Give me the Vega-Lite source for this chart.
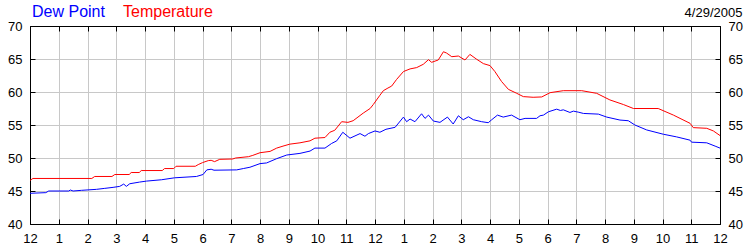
{
  "$schema": "https://vega.github.io/schema/vega-lite/v6.json",
  "width": 690,
  "height": 198,
  "autosize": "none",
  "padding": {"left": 30, "top": 26, "right": 30, "bottom": 26},
  "background": "white",
  "title": {"text": "4/29/2005", "anchor": "end", "fontSize": 13, "fontWeight": "normal", "font": "Liberation Sans", "color": "black", "offset": -16},
  "config": {"view": {"stroke": "black", "strokeWidth": 1}, "font": "Liberation Sans"},
  "data": {"values": [
    {"h":0,"s":"Temperature","v":46.6},{"h":0.1,"s":"Temperature","v":46.9},{"h":2.15,"s":"Temperature","v":46.9},{"h":2.25,"s":"Temperature","v":47.2},{"h":2.85,"s":"Temperature","v":47.2},{"h":2.95,"s":"Temperature","v":47.5},{"h":3.45,"s":"Temperature","v":47.5},{"h":3.52,"s":"Temperature","v":47.8},{"h":3.8,"s":"Temperature","v":47.8},{"h":3.87,"s":"Temperature","v":48.1},{"h":4.6,"s":"Temperature","v":48.1},{"h":4.68,"s":"Temperature","v":48.4},{"h":5.0,"s":"Temperature","v":48.4},{"h":5.08,"s":"Temperature","v":48.75},{"h":5.75,"s":"Temperature","v":48.75},{"h":5.85,"s":"Temperature","v":49.0},{"h":6.0,"s":"Temperature","v":49.3},{"h":6.2,"s":"Temperature","v":49.6},{"h":6.3,"s":"Temperature","v":49.65},{"h":6.42,"s":"Temperature","v":49.45},{"h":6.6,"s":"Temperature","v":49.8},{"h":7.05,"s":"Temperature","v":49.85},{"h":7.15,"s":"Temperature","v":50.0},{"h":7.6,"s":"Temperature","v":50.2},{"h":7.75,"s":"Temperature","v":50.4},{"h":8.0,"s":"Temperature","v":50.8},{"h":8.35,"s":"Temperature","v":51.0},{"h":8.58,"s":"Temperature","v":51.5},{"h":8.8,"s":"Temperature","v":51.8},{"h":9.04,"s":"Temperature","v":52.1},{"h":9.39,"s":"Temperature","v":52.3},{"h":9.74,"s":"Temperature","v":52.6},{"h":9.91,"s":"Temperature","v":53.0},{"h":10.26,"s":"Temperature","v":53.1},{"h":10.43,"s":"Temperature","v":53.9},{"h":10.6,"s":"Temperature","v":54.2},{"h":10.84,"s":"Temperature","v":55.5},{"h":11.06,"s":"Temperature","v":55.4},{"h":11.24,"s":"Temperature","v":55.65},{"h":11.59,"s":"Temperature","v":56.8},{"h":11.83,"s":"Temperature","v":57.5},{"h":11.94,"s":"Temperature","v":58.1},{"h":12.17,"s":"Temperature","v":59.5},{"h":12.29,"s":"Temperature","v":60.2},{"h":12.45,"s":"Temperature","v":60.6},{"h":12.58,"s":"Temperature","v":60.9},{"h":12.75,"s":"Temperature","v":61.9},{"h":12.99,"s":"Temperature","v":63.1},{"h":13.22,"s":"Temperature","v":63.5},{"h":13.45,"s":"Temperature","v":63.7},{"h":13.68,"s":"Temperature","v":64.2},{"h":13.86,"s":"Temperature","v":64.9},{"h":13.97,"s":"Temperature","v":64.5},{"h":14.2,"s":"Temperature","v":64.85},{"h":14.38,"s":"Temperature","v":66.1},{"h":14.49,"s":"Temperature","v":65.9},{"h":14.67,"s":"Temperature","v":65.35},{"h":14.9,"s":"Temperature","v":65.45},{"h":15.13,"s":"Temperature","v":64.85},{"h":15.3,"s":"Temperature","v":65.7},{"h":15.54,"s":"Temperature","v":64.95},{"h":15.77,"s":"Temperature","v":64.3},{"h":16.0,"s":"Temperature","v":64.0},{"h":16.17,"s":"Temperature","v":63.1},{"h":16.4,"s":"Temperature","v":61.6},{"h":16.64,"s":"Temperature","v":60.4},{"h":16.93,"s":"Temperature","v":59.8},{"h":17.16,"s":"Temperature","v":59.3},{"h":17.5,"s":"Temperature","v":59.2},{"h":17.8,"s":"Temperature","v":59.25},{"h":18.09,"s":"Temperature","v":59.9},{"h":18.55,"s":"Temperature","v":60.2},{"h":19.19,"s":"Temperature","v":60.2},{"h":19.71,"s":"Temperature","v":59.8},{"h":20.17,"s":"Temperature","v":58.8},{"h":20.64,"s":"Temperature","v":58.1},{"h":20.99,"s":"Temperature","v":57.5},{"h":21.85,"s":"Temperature","v":57.5},{"h":22.38,"s":"Temperature","v":56.5},{"h":22.96,"s":"Temperature","v":55.25},{"h":23.07,"s":"Temperature","v":54.6},{"h":23.54,"s":"Temperature","v":54.5},{"h":23.77,"s":"Temperature","v":54.1},{"h":24.0,"s":"Temperature","v":53.4},
    {"h":0,"s":"Dew Point","v":44.65},{"h":0.55,"s":"Dew Point","v":44.75},{"h":0.65,"s":"Dew Point","v":45.0},{"h":1.35,"s":"Dew Point","v":45.0},{"h":1.4,"s":"Dew Point","v":45.15},{"h":1.5,"s":"Dew Point","v":45.0},{"h":1.79,"s":"Dew Point","v":45.1},{"h":2.31,"s":"Dew Point","v":45.25},{"h":2.6,"s":"Dew Point","v":45.4},{"h":2.89,"s":"Dew Point","v":45.55},{"h":3.12,"s":"Dew Point","v":45.7},{"h":3.26,"s":"Dew Point","v":46.05},{"h":3.35,"s":"Dew Point","v":45.7},{"h":3.47,"s":"Dew Point","v":46.1},{"h":3.81,"s":"Dew Point","v":46.35},{"h":4.05,"s":"Dew Point","v":46.5},{"h":4.57,"s":"Dew Point","v":46.7},{"h":5.03,"s":"Dew Point","v":47.0},{"h":5.79,"s":"Dew Point","v":47.2},{"h":6.02,"s":"Dew Point","v":47.5},{"h":6.15,"s":"Dew Point","v":48.2},{"h":6.3,"s":"Dew Point","v":48.3},{"h":6.4,"s":"Dew Point","v":48.15},{"h":7.19,"s":"Dew Point","v":48.2},{"h":7.42,"s":"Dew Point","v":48.4},{"h":7.65,"s":"Dew Point","v":48.6},{"h":8.0,"s":"Dew Point","v":49.15},{"h":8.23,"s":"Dew Point","v":49.25},{"h":8.58,"s":"Dew Point","v":49.9},{"h":8.93,"s":"Dew Point","v":50.45},{"h":9.39,"s":"Dew Point","v":50.7},{"h":9.74,"s":"Dew Point","v":51.05},{"h":9.91,"s":"Dew Point","v":51.5},{"h":10.26,"s":"Dew Point","v":51.5},{"h":10.49,"s":"Dew Point","v":52.2},{"h":10.67,"s":"Dew Point","v":52.6},{"h":10.88,"s":"Dew Point","v":53.9},{"h":11.13,"s":"Dew Point","v":53.0},{"h":11.48,"s":"Dew Point","v":53.7},{"h":11.65,"s":"Dew Point","v":53.3},{"h":11.77,"s":"Dew Point","v":53.7},{"h":12.0,"s":"Dew Point","v":54.1},{"h":12.17,"s":"Dew Point","v":53.9},{"h":12.38,"s":"Dew Point","v":54.35},{"h":12.7,"s":"Dew Point","v":54.65},{"h":12.99,"s":"Dew Point","v":56.2},{"h":13.1,"s":"Dew Point","v":55.5},{"h":13.22,"s":"Dew Point","v":55.9},{"h":13.39,"s":"Dew Point","v":55.5},{"h":13.62,"s":"Dew Point","v":56.7},{"h":13.74,"s":"Dew Point","v":56.0},{"h":13.86,"s":"Dew Point","v":56.5},{"h":14.03,"s":"Dew Point","v":55.6},{"h":14.26,"s":"Dew Point","v":55.4},{"h":14.52,"s":"Dew Point","v":56.2},{"h":14.72,"s":"Dew Point","v":55.15},{"h":14.9,"s":"Dew Point","v":56.4},{"h":15.07,"s":"Dew Point","v":55.8},{"h":15.25,"s":"Dew Point","v":56.25},{"h":15.42,"s":"Dew Point","v":55.8},{"h":15.71,"s":"Dew Point","v":55.5},{"h":15.94,"s":"Dew Point","v":55.35},{"h":16.06,"s":"Dew Point","v":55.8},{"h":16.26,"s":"Dew Point","v":56.5},{"h":16.46,"s":"Dew Point","v":56.2},{"h":16.75,"s":"Dew Point","v":56.5},{"h":17.04,"s":"Dew Point","v":55.8},{"h":17.22,"s":"Dew Point","v":56.0},{"h":17.62,"s":"Dew Point","v":56.0},{"h":17.74,"s":"Dew Point","v":56.4},{"h":17.86,"s":"Dew Point","v":56.5},{"h":18.03,"s":"Dew Point","v":57.0},{"h":18.32,"s":"Dew Point","v":57.4},{"h":18.45,"s":"Dew Point","v":57.2},{"h":18.55,"s":"Dew Point","v":57.3},{"h":18.78,"s":"Dew Point","v":56.9},{"h":18.9,"s":"Dew Point","v":57.1},{"h":19.07,"s":"Dew Point","v":56.95},{"h":19.25,"s":"Dew Point","v":56.75},{"h":19.77,"s":"Dew Point","v":56.65},{"h":20.06,"s":"Dew Point","v":56.2},{"h":20.52,"s":"Dew Point","v":55.75},{"h":20.81,"s":"Dew Point","v":55.65},{"h":21.04,"s":"Dew Point","v":55.0},{"h":21.45,"s":"Dew Point","v":54.25},{"h":22.03,"s":"Dew Point","v":53.6},{"h":22.49,"s":"Dew Point","v":53.2},{"h":22.96,"s":"Dew Point","v":52.7},{"h":23.01,"s":"Dew Point","v":52.4},{"h":23.54,"s":"Dew Point","v":52.3},{"h":23.83,"s":"Dew Point","v":51.8},{"h":24.0,"s":"Dew Point","v":51.5}
  ]},
  "layer": [
    {
      "mark": {"type": "line", "strokeWidth": 1, "clip": true},
      "encoding": {
        "x": {"field": "h", "type": "quantitative", "scale": {"domain": [0, 24], "nice": false, "zero": false},
          "axis": {"orient": "bottom", "title": null, "values": [0,1,2,3,4,5,6,7,8,9,10,11,12,13,14,15,16,17,18,19,20,21,22,23,24],
            "labelExpr": "datum.value % 12 == 0 ? '12' : '' + (datum.value % 12)", "labelFontSize": 13, "labelColor": "black", "labelPadding": 13,
            "grid": true, "gridColor": "#c8c8c8", "gridWidth": 1, "domainColor": "black", "tickColor": "black", "tickSize": -5, "labelFlush": false, "labelOverlap": false}},
        "y": {"field": "v", "type": "quantitative", "scale": {"domain": [40, 70], "nice": false, "zero": false},
          "axis": {"orient": "left", "title": null, "values": [40,45,50,55,60,65,70], "labelFontSize": 13, "labelColor": "black", "labelPadding": 13,
            "grid": true, "gridColor": "#c8c8c8", "gridWidth": 1, "domainColor": "black", "tickColor": "black", "tickSize": -5, "labelFlush": false, "labelOverlap": false}},
        "color": {"field": "s", "type": "nominal", "scale": {"domain": ["Dew Point", "Temperature"], "range": ["#0000ff", "#ff0000"]},
          "legend": {"orient": "none", "legendX": -14, "legendY": -22, "direction": "horizontal", "title": null, "symbolSize": 0, "symbolOpacity": 0, "symbolStrokeWidth": 0, "labelOffset": 0, "columnPadding": 2, "labelFontSize": 16, "labelFont": "Liberation Sans",
            "encode": {"labels": {"update": {"fill": {"signal": "datum.value === 'Dew Point' ? '#0000ff' : '#ff0000'"}}}}}}
      }
    },
    {
      "mark": {"type": "line", "opacity": 0},
      "encoding": {
        "x": {"field": "h", "type": "quantitative", "scale": {"domain": [0, 24], "nice": false, "zero": false},
          "axis": {"orient": "top", "title": null, "values": [0,1,2,3,4,5,6,7,8,9,10,11,12,13,14,15,16,17,18,19,20,21,22,23,24], "labels": false, "grid": false, "domainColor": "black", "tickColor": "black", "tickSize": -5}},
        "y": {"field": "v", "type": "quantitative", "scale": {"domain": [40, 70], "nice": false, "zero": false},
          "axis": {"orient": "right", "title": null, "values": [40,45,50,55,60,65,70], "labelFontSize": 13, "labelColor": "black", "labelPadding": 13, "grid": false, "domainColor": "black", "tickColor": "black", "tickSize": -5, "labelFlush": false, "labelOverlap": false}},
        "detail": {"field": "s", "type": "nominal"}
      }
    }
  ],
  "resolve": {"scale": {"x": "shared", "y": "shared"}, "axis": {"x": "independent", "y": "independent"}}
}
